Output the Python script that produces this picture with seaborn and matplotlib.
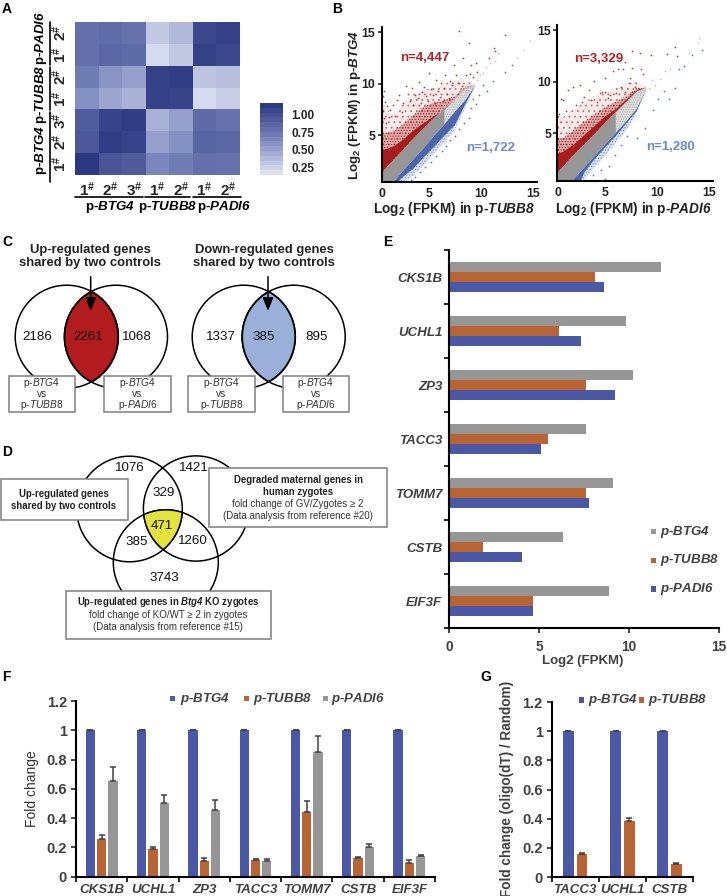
import numpy as np
import pandas as pd
import matplotlib
matplotlib.use('Agg')
import matplotlib.pyplot as plt
from matplotlib.colors import LinearSegmentedColormap
from matplotlib.patches import Circle, Polygon, Rectangle
import seaborn as sns

# panel A
heat_rows = ['2#', '1#', '2#', '1#', '3#', '2#', '1#']
heat_values_1 = [0.80, 0.82, 0.78, 0.30, 0.38, 1.05, 1.10]
heat_values_2 = [0.80, 0.85, 0.83, 0.20, 0.30, 1.10, 1.05]
heat_values_3 = [0.72, 0.58, 0.52, 1.10, 1.12, 0.32, 0.35]
heat_values_4 = [0.60, 0.48, 0.42, 1.10, 1.08, 0.20, 0.27]
heat_values_5 = [0.92, 1.08, 1.12, 0.42, 0.52, 0.83, 0.78]
heat_values_6 = [0.95, 1.12, 1.08, 0.52, 0.60, 0.87, 0.85]
heat_values_7 = [1.15, 0.97, 0.93, 0.65, 0.72, 0.80, 0.78]
heat_cols = ['1#', '2#', '3#', '1#', '2#', '1#', '2#']

# panel B, left: dense bands read as envelopes
l_x = [0.4, 1.4, 2.4, 3.4, 4.4, 5.4, 6.4, 7.4, 8.4, 9.4]
l_grey_lo = [-0.6, 0.4, 1.6, 2.7, 3.8, 5.0, 6.1, 7.3, 8.4, 9.9]
l_grey_hi = [1.45, 2.55, 3.6, 4.7, 5.7, 6.7, 7.6, 8.5, 9.5, 9.9]
l_red_a = [3.6, 3.9, 4.6, 5.5, 6.2, 6.9, 7.5, 8.5, 9.5, 9.9]
l_red_b = [5.2, 5.4, 6.1, 7.0, 7.8, 8.2, 8.4, 8.8, 9.7, 9.9]
l_red_c = [8.0, 7.0, 8.0, 9.0, 9.4, 9.6, 10.0, 10.3, 10.6, 9.9]
l_blue_a = [-2.0, 0.0, 1.0, 1.8, 2.9, 3.9, 5.0, 6.0, 8.0, 9.9]
l_blue_b = [-2.0, -1.0, 0.3, 1.1, 2.1, 3.2, 4.4, 5.5, 7.6, 9.9]

# panel B, left: sparse points
l_red_px = [7.9, 12.3, 8.8, 11.2, 11.3, 10.8, 9.5, 9.0, 7.4, 8.2, 5.0, 6.5, 7.6, 8.5, 2.7, 4.0, 5.6, 3.3, 4.5, 6.1,
            7.0, 7.9, 8.9, 9.6, 2.1, 2.9, 3.6, 4.3, 5.1, 5.8, 6.4, 7.2, 0.6, 0.5, 0.7, 0.9, 1.2, 1.5, 1.9, 2.4,
            3.1, 3.9, 4.7, 5.3, 6.0, 6.7, 0.5, 0.6, 0.8, 1.1, 1.7, 2.3, 3.4, 4.2, 4.9, 5.5, 6.3, 6.9, 8.1, 9.2]
l_red_py = [15.1, 14.7, 13.9, 13.5, 13.2, 12.5, 12.0, 11.8, 11.8, 12.5, 11.0, 10.8, 10.8, 10.8, 9.8, 10.2, 10.4, 9.6, 9.7, 10.1,
            10.3, 10.1, 10.9, 11.1, 8.9, 9.0, 8.9, 9.2, 9.5, 9.3, 9.6, 9.9, 9.3, 8.8, 8.2, 7.8, 7.4, 7.9, 8.4, 8.1,
            8.3, 8.6, 8.8, 8.9, 8.7, 9.0, 7.3, 6.7, 6.2, 6.8, 6.9, 7.2, 7.9, 8.1, 8.3, 8.1, 8.3, 8.6, 9.8, 10.6]
l_grey_px = [14.7, 14.1, 13.5, 11.6, 11.3, 10.9, 10.5, 10.2, 9.9, 9.6, 9.2, 9.0, 8.8, 8.5, 8.2]
l_grey_py = [14.1, 13.3, 12.5, 13.0, 12.2, 12.0, 11.6, 11.0, 10.8, 10.4, 10.5, 9.8, 10.2, 9.6, 9.9]
l_blue_px = [12.3, 13.0, 10.6, 10.2, 11.1, 9.8, 9.5, 9.2, 9.0, 8.8, 8.3, 7.9, 7.5, 7.0, 6.6, 6.2, 5.6, 5.1, 4.6, 4.1, 3.6, 3.2]
l_blue_py = [11.1, 11.8, 9.3, 9.9, 10.3, 8.9, 8.0, 8.5, 7.6, 6.7, 6.2, 5.6, 4.9, 4.5, 3.9, 3.5, 3.0, 2.4, 1.9, 1.4, 0.9, 0.6]

# panel B, right: dense bands
r_x = [0.45, 1, 2, 3, 4, 5, 6, 7, 8, 9]
r_grey_lo = [-1.0, -0.4, 0.67, 1.78, 2.9, 4.0, 5.1, 6.2, 7.4, 9.5]
r_grey_hi = [1.3, 1.9, 3.0, 4.0, 5.0, 6.1, 7.1, 8.1, 9.1, 9.5]
r_red_a = [3.1, 3.3, 4.0, 4.9, 5.8, 6.7, 7.4, 8.3, 9.2, 9.5]
r_red_b = [4.6, 4.6, 5.4, 6.2, 6.9, 7.6, 8.1, 8.6, 9.4, 9.5]
r_red_c = [6.8, 6.6, 7.4, 8.0, 8.6, 9.0, 9.4, 9.8, 10.0, 9.5]
r_blue_a = [-2.0, -2.0, -1.0, 1.3, 2.6, 3.7, 4.8, 6.0, 7.2, 9.5]
r_blue_b = [-2.0, -2.0, 0.0, 0.6, 1.8, 2.9, 4.1, 5.3, 6.9, 9.5]

# panel B, right: sparse points
r_red_px = [11.7, 7.6, 8.4, 9.4, 11.0, 11.9, 6.9, 5.8, 6.3, 6.7, 7.6, 8.5, 8.7, 4.0, 5.0, 1.9, 1.5, 2.6, 7.4, 7.3,
            7.9, 3.5, 4.5, 4.7, 5.0, 5.5, 7.6, 6.9, 0.8, 1.0, 3.0, 3.7, 4.2, 5.3, 6.1, 6.6, 2.2, 2.8, 1.3, 0.6]
r_red_py = [13.4, 13.0, 12.8, 12.6, 12.7, 12.5, 11.9, 11.0, 11.2, 11.2, 11.3, 11.2, 10.8, 10.1, 10.4, 9.5, 9.2, 9.7, 10.4, 9.9,
            9.5, 9.2, 8.9, 9.0, 9.0, 8.7, 9.0, 9.0, 8.3, 8.2, 8.5, 8.2, 8.0, 8.4, 8.9, 9.5, 7.8, 8.0, 7.2, 6.9]
r_grey_px = [14.1, 14.0, 13.1, 11.3, 10.8, 10.3, 9.8, 9.5, 9.2, 8.9]
r_grey_py = [14.2, 13.8, 12.8, 11.2, 11.0, 10.3, 9.7, 10.2, 9.4, 9.1]
r_blue_px = [14.3, 13.4, 12.6, 12.1, 11.7, 11.2, 10.7, 10.1, 9.6, 8.9, 8.1, 7.1, 6.6, 6.0, 5.0, 5.4, 4.6, 3.9]
r_blue_py = [13.1, 12.6, 11.5, 11.2, 9.4, 8.3, 9.1, 8.3, 7.3, 5.5, 4.6, 4.8, 3.9, 2.9, 0.6, 1.9, 1.5, 1.0]

# panel E
genes_e = ['CKS1B', 'UCHL1', 'ZP3', 'TACC3', 'TOMM7', 'CSTB', 'EIF3F']
groups_e = ['p-BTG4', 'p-TUBB8', 'p-PADI6']
e_btg4 = [11.8, 9.85, 10.2, 7.6, 9.1, 6.35, 8.9]
e_tubb8 = [8.1, 6.1, 7.6, 5.5, 7.6, 1.85, 4.65]
e_padi6 = [8.6, 7.3, 9.2, 5.1, 7.75, 4.05, 4.65]

# panel F
f_btg4 = [1, 1, 1, 1, 1, 1, 1]
f_tubb8 = [0.26, 0.19, 0.105, 0.115, 0.44, 0.125, 0.095]
f_padi6 = [0.655, 0.50, 0.455, 0.11, 0.85, 0.205, 0.14]
f_btg4_err = [0.002, 0.002, 0.002, 0.002, 0.002, 0.002, 0.002]
f_tubb8_err = [0.025, 0.01, 0.02, 0.003, 0.075, 0.01, 0.018]
f_padi6_err = [0.095, 0.055, 0.07, 0.01, 0.11, 0.02, 0.007]

# panel G
genes_g = ['TACC3', 'UCHL1', 'CSTB']
g_btg4 = [1, 1, 1]
g_tubb8 = [0.16, 0.385, 0.09]
g_btg4_err = [0.002, 0.002, 0.002]
g_tubb8_err = [0.005, 0.02, 0.005]

BLUE = '#4a58a5'
ORANGE = '#b96433'
GREY = '#969696'
DARK = '#404040'
RED = '#a81c1c'
SCAT_BLUE = '#3d5aa8'
W, H = 727, 896

sns.set_style('ticks')
plt.rcParams['font.family'] = ['Liberation Sans', 'DejaVu Sans']
plt.rcParams['mathtext.fontset'] = 'custom'
plt.rcParams['mathtext.rm'] = 'Liberation Sans'
plt.rcParams['mathtext.it'] = 'Liberation Sans:italic'
plt.rcParams['mathtext.bf'] = 'Liberation Sans:bold'
plt.rcParams['mathtext.bfit'] = 'Liberation Sans:italic:bold'
plt.rcParams['mathtext.default'] = 'bf'
plt.rcParams['hatch.linewidth'] = 0.5


def px_axes(x0, y0, x1, y1):
    return fig.add_axes([x0 / W, 1 - y1 / H, (x1 - x0) / W, (y1 - y0) / H])


def bold_it(name):
    # 'p-BTG4' -> bold p- with bold italic gene name
    pre, gene = name.split('-')
    return pre + '-$\\mathbfit{' + gene + '}$'


def it(name):
    pre, gene = name.split('-')
    return pre + '-$\\mathit{' + gene + '}$'


def style_axes(ax, lw=1.5):
    sns.despine(ax=ax)
    for s in ['left', 'bottom']:
        ax.spines[s].set_linewidth(lw)
        ax.spines[s].set_color('black')


def lens(circles):
    # outline of the area shared by all circles, they are convex so angle sort works
    pts = []
    for cx, cy, r in circles:
        t = np.linspace(0, 2 * np.pi, 720)
        xy = np.column_stack([cx + r * np.cos(t), cy + r * np.sin(t)])
        keep = np.ones(len(xy), dtype=bool)
        for ox, oy, orad in circles:
            keep &= np.hypot(xy[:, 0] - ox, xy[:, 1] - oy) <= orad + 0.01
        pts.append(xy[keep])
    pts = np.vstack(pts)
    c = pts.mean(axis=0)
    return pts[np.argsort(np.arctan2(pts[:, 1] - c[1], pts[:, 0] - c[0]))]


def stipple(ax, xs, a, b, colour, hatch, tint):
    # thin wash plus dots, reads like the point cloud at this size
    ax.fill_between(xs, a, b, color=colour, alpha=tint, lw=0)
    ax.fill_between(xs, a, b, facecolor='none', edgecolor=colour, hatch=hatch, linewidth=0)


def scatter_panel(ax, xs, lo, hi, red_a, red_b, red_c, blue_a, blue_b, points):
    stipple(ax, xs, hi, red_c, '#c0605c', '...', 0.12)
    stipple(ax, xs, hi, red_b, RED, '......', 0.3)
    ax.fill_between(xs, hi, red_a, color=RED, lw=0)
    stipple(ax, xs, blue_b, lo, '#6f88c4', '......', 0.25)
    ax.fill_between(xs, blue_a, lo, color=SCAT_BLUE, alpha=0.9, lw=0)
    stipple(ax, xs, lo, hi, '#aaaaaa', '.......', 0.4)
    ax.fill_between(xs[:7], lo[:7], hi[:7], color=GREY, lw=0)
    for px, py, col in points:
        sns.scatterplot(x=px, y=py, color=col, s=1.6, linewidth=0, alpha=0.85, ax=ax)
    style_axes(ax)
    ax.set_xlim(xs[0] - 0.02, 15.4)
    ax.set_ylim(0.4, 15.5)
    ax.set_xticks([xs[0] + 0.05, 5, 10, 15], ['0', '5', '10', '15'])
    ax.set_yticks([5, 10, 15])
    ax.tick_params(axis='x', length=0, pad=4)
    ax.tick_params(axis='y', length=3, width=1.2, pad=1.5)
    for t in ax.get_xticklabels() + ax.get_yticklabels():
        t.set_fontsize(8.8)
        t.set_fontweight('bold')
        t.set_color('#222222')


def bar_ticks(ax, n):
    # ticks sit between the groups, gene names stay centred on them
    ax.tick_params(which='major', length=0)
    ax.tick_params(which='minor', length=3.5, width=1.2, color='black')
    return np.arange(n + 1) - 0.5


def group_frame(genes, **series):
    rows = []
    for name, vals in series.items():
        for g, v in zip(genes, vals):
            rows.append({'gene': g, 'group': name, 'value': v})
    return pd.DataFrame(rows)


def add_errors(ax, errs):
    for cont, err in zip(ax.containers, errs):
        xs = [b.get_x() + b.get_width() / 2 for b in cont]
        ys = [b.get_height() for b in cont]
        ax.errorbar(xs, ys, yerr=[np.zeros(len(err)), err], fmt='none', ecolor=DARK,
                    elinewidth=1.1, capsize=2.4, capthick=1.1)


fig = plt.figure(figsize=(W / 100, H / 100), dpi=100)

# ---- A ----
heat = np.array([heat_values_1, heat_values_2, heat_values_3, heat_values_4,
                 heat_values_5, heat_values_6, heat_values_7])
cmap = LinearSegmentedColormap.from_list('bluish', ['#e1e7f5', '#7b86bc', '#29367f'])
ax_a = px_axes(75, 22, 240, 175)
cax = px_axes(260, 103, 283, 175)
sns.heatmap(heat, ax=ax_a, cmap=cmap, vmin=0.135, vmax=1.17, cbar_ax=cax,
            xticklabels=[f'${c[0]}^{{\\#}}$' for c in heat_cols],
            yticklabels=[f'${c[0]}^{{\\#}}$' for c in heat_rows],
            cbar_kws={'ticks': [0.25, 0.5, 0.75, 1.0], 'format': '%.2f',
                      'boundaries': np.linspace(0.135, 1.17, 16)})
ax_a.tick_params(length=0, pad=4)
for t in ax_a.get_xticklabels():
    t.set_fontsize(11)
    t.set_rotation(0)
for t in ax_a.get_yticklabels():
    t.set_fontsize(11)
    t.set_rotation(90)
    t.set_va('center')
cax.tick_params(length=0, pad=6)
for t in cax.get_yticklabels():
    t.set_fontsize(8.5)
    t.set_fontweight('bold')
cax.collections[0].set_edgecolor('face')

# ---- B ----
ax_b1 = px_axes(381.7, 27, 537, 182.5)
scatter_panel(ax_b1, l_x, l_grey_lo, l_grey_hi, l_red_a, l_red_b, l_red_c, l_blue_a, l_blue_b,
              [(l_red_px, l_red_py, RED), (l_grey_px, l_grey_py, '#bdbdbd'), (l_blue_px, l_blue_py, SCAT_BLUE)])
ax_b2 = px_axes(557.3, 25, 713, 181)
scatter_panel(ax_b2, r_x, r_grey_lo, r_grey_hi, r_red_a, r_red_b, r_red_c, r_blue_a, r_blue_b,
              [(r_red_px, r_red_py, RED), (r_grey_px, r_grey_py, '#bdbdbd'), (r_blue_px, r_blue_py, SCAT_BLUE)])

# ---- E ----
df_e = group_frame(genes_e, **{groups_e[0]: e_btg4, groups_e[1]: e_tubb8, groups_e[2]: e_padi6})
ax_e = px_axes(449.3, 250, 719, 628)
sns.barplot(data=df_e, x='value', y='gene', hue='group', orient='h', ax=ax_e, width=0.57, saturation=1,
            palette=[GREY, ORANGE, BLUE], errorbar=None, legend=False, linewidth=0)
style_axes(ax_e)
ax_e.set_xlim(0, 15)
ax_e.set_ylim(6.5, -0.5)
ax_e.set_xticks([0, 5, 10, 15])
ax_e.set_xlabel('')
ax_e.set_ylabel('')
ax_e.set_yticks(bar_ticks(ax_e, 7), minor=True)
ax_e.tick_params(axis='x', which='major', length=3.5, width=1.2, pad=5)
ax_e.tick_params(axis='y', pad=5)
for t in ax_e.get_yticklabels():
    t.set_fontsize(9.5)
    t.set_fontweight('bold')
    t.set_fontstyle('italic')
    t.set_color(DARK)
for t in ax_e.get_xticklabels():
    t.set_fontsize(9.8)
    t.set_fontweight('bold')
    t.set_color(DARK)

# ---- F ----
df_f = group_frame(genes_e, b=f_btg4, t=f_tubb8, p=f_padi6)
ax_f = px_axes(76, 701, 435, 876.7)
sns.barplot(data=df_f, x='gene', y='value', hue='group', ax=ax_f, width=0.66, gap=0.18, saturation=1,
            palette=[BLUE, ORANGE, GREY], errorbar=None, legend=False, linewidth=0)
add_errors(ax_f, [f_btg4_err, f_tubb8_err, f_padi6_err])
style_axes(ax_f)
ax_f.set_xlim(-0.5, 6.5)
ax_f.set_ylim(0, 1.2)
ax_f.set_yticks([0, 0.2, 0.4, 0.6, 0.8, 1, 1.2], ['0', '0.2', '0.4', '0.6', '0.8', '1', '1.2'])
ax_f.set_xlabel('')
ax_f.set_ylabel('Fold change', fontsize=10, color='#333333', labelpad=5)
ax_f.set_xticks(bar_ticks(ax_f, 7), minor=True)
ax_f.tick_params(axis='y', which='major', length=3.5, width=1.2, pad=3)
ax_f.tick_params(axis='x', which='major', pad=5)
for t in ax_f.get_xticklabels():
    t.set_fontsize(9.5)
    t.set_fontweight('bold')
    t.set_fontstyle('italic')
    t.set_color(DARK)
for t in ax_f.get_yticklabels():
    t.set_fontsize(10.5)
    t.set_fontweight('bold')
    t.set_color(DARK)

# ---- G ----
df_g = group_frame(genes_g, b=g_btg4, t=g_tubb8)
ax_g = px_axes(551.7, 702, 693, 877)
sns.barplot(data=df_g, x='gene', y='value', hue='group', ax=ax_g, width=0.58, gap=0.22, saturation=1,
            palette=[BLUE, ORANGE], errorbar=None, legend=False, linewidth=0)
add_errors(ax_g, [g_btg4_err, g_tubb8_err])
style_axes(ax_g)
ax_g.set_xlim(-0.5, 2.5)
ax_g.set_ylim(0, 1.2)
ax_g.set_yticks([0, 0.2, 0.4, 0.6, 0.8, 1, 1.2], ['0', '0.2', '0.4', '0.6', '0.8', '1', '1.2'])
ax_g.set_xlabel('')
ax_g.set_ylabel('')
ax_g.set_xticks(bar_ticks(ax_g, 3), minor=True)
ax_g.tick_params(axis='y', which='major', length=3.5, width=1.2, pad=3)
ax_g.tick_params(axis='x', which='major', pad=5)
for t in ax_g.get_xticklabels():
    t.set_fontsize(9.5)
    t.set_fontweight('bold')
    t.set_fontstyle('italic')
    t.set_color(DARK)
for t in ax_g.get_yticklabels():
    t.set_fontsize(10.5)
    t.set_fontweight('bold')
    t.set_color(DARK)

# ---- overlay in pixel coordinates: labels, venns, legends ----
ov = fig.add_axes([0, 0, 1, 1])
ov.set_xlim(0, W)
ov.set_ylim(H, 0)
ov.axis('off')
ov.patch.set_alpha(0)


def txt(x, y, s, size=9, weight='normal', color='black', **kw):
    ov.text(x, y, s, fontsize=size, fontweight=weight, color=color, ha=kw.pop('ha', 'center'),
            va=kw.pop('va', 'center'), **kw)


def box(x0, y0, x1, y1):
    ov.add_patch(Rectangle((x0, y0), x1 - x0, y1 - y0, fc='white', ec='#7f7f7f', lw=1.1, zorder=4))


def venn2(cx1, cx2, cy, r, fill):
    for cx in [cx1, cx2]:
        ov.add_patch(Circle((cx, cy), r, fc='none', ec='black', lw=1.1, zorder=2))
    ov.add_patch(Polygon(lens([(cx1, cy, r), (cx2, cy, r)]), fc=fill, ec='black', lw=1.3, zorder=3))


def square_legend(x, y, colour, label, text_dx=4.5):
    ov.add_patch(Rectangle((x, y - 2.6), 5.2, 5.2, fc=colour, lw=0))
    pre, gene = label.split('-')
    txt(x + 5.2 + text_dx, y, '$\\mathbfit{' + pre + '}$-$\\mathbfit{' + gene + '}$', size=9.5,
        weight='bold', style='italic', color=DARK, ha='left')


# panel letters
for letter, lx, ly in [('A', 2, 9), ('B', 332, 9), ('C', 2, 241.7), ('D', 2, 452),
                       ('E', 383, 241.7), ('F', 2, 676.7), ('G', 480, 676.7)]:
    txt(lx, ly, letter, size=10, weight='bold', ha='left')

# panel A brackets and group names
for x0, x1, name, cx in [(75, 142.7, 'p-BTG4', 110), (145, 190, 'p-TUBB8', 168), (193, 240.7, 'p-PADI6', 224)]:
    ov.plot([x0, x1], [197, 197], color='black', lw=1.2)
    txt(cx, 207, bold_it(name), size=9.6, weight='bold')
for y0, y1, name, cy in [(22, 65, 'p-PADI6', 38), (67, 110, 'p-TUBB8', 94), (112, 182, 'p-BTG4', 150)]:
    ov.plot([50, 50], [y0, y1], color='black', lw=1.2)
    txt(40.7, cy, bold_it(name), size=9.6, weight='bold', rotation=90)

# panel B texts
txt(425, 58, 'n=4,447', size=9.5, weight='bold', color='#b22222')
txt(490.7, 147.7, 'n=1,722', size=9.5, weight='bold', color='#6a8ac8')
txt(598.7, 59.3, 'n=3,329', size=9.5, weight='bold', color='#b22222')
txt(670.3, 147.3, 'n=1,280', size=9.5, weight='bold', color='#6a8ac8')
txt(454.5, 209, 'Log$_{2}$ (FPKM) in p-$\\mathbfit{TUBB8}$', size=9.8, weight='bold', color='#222222')
txt(634, 209, 'Log$_{2}$ (FPKM) in p-$\\mathbfit{PADI6}$', size=9.8, weight='bold', color='#222222')
txt(355, 105, 'Log$_{2}$ (FPKM) in p-$\\mathbfit{BTG4}$', size=9.6, weight='bold', color='#222222', rotation=90)

# panel C
venn2(66.7, 116, 336.7, 51.5, '#b21c1e')
venn2(243.7, 293.7, 336.7, 51.5, '#9ab0d8')
txt(90, 256.5, 'Up-regulated genes\nshared by two controls', size=9.4, weight='bold', color='#222222', linespacing=1.2)
txt(264, 256.5, 'Down-regulated genes\nshared by two controls', size=9.4, weight='bold', color='#222222', linespacing=1.2)
for ax_x in [90.7, 268]:
    ov.annotate('', xy=(ax_x, 311), xytext=(ax_x, 276.7), zorder=5,
                arrowprops=dict(arrowstyle='-|>,head_width=0.32,head_length=0.8', color='black', lw=1.1,
                                shrinkA=0, shrinkB=0))
for num, nx in [('2186', 37.3), ('2261', 88.7), ('1068', 137), ('1337', 220.7), ('385', 264), ('895', 316.7)]:
    txt(nx, 337.5, num, size=9.6, zorder=5, color='#111111')
for x0, x1, name in [(9, 75, 'p-TUBB8'), (104, 171, 'p-PADI6'), (188, 255, 'p-TUBB8'), (283, 349, 'p-PADI6')]:
    box(x0, 376, x1, 412)
    cx = (x0 + x1) / 2
    txt(cx, 382.5, it('p-BTG4'), size=7.3, color='#333333', zorder=5)
    txt(cx, 394, 'vs', size=7.3, color='#333333', zorder=5)
    txt(cx, 405.5, it(name), size=7.3, color='#333333', zorder=5)

# panel D
d_circles = [(129.5, 509, 52.8), (196, 508.5, 52.6), (165.8, 562.3, 52.5)]
for c in d_circles:
    ov.add_patch(Circle(c[:2], c[2], fc='none', ec='black', lw=1.1, zorder=2))
ov.add_patch(Polygon(lens(d_circles), fc='#e4e23c', ec='black', lw=1.1, zorder=3))
for num, nx, ny in [('1076', 130, 468.3), ('1421', 194, 468.3), ('329', 164, 492.7), ('471', 162, 526),
                    ('385', 136.7, 541.7), ('1260', 192.7, 541), ('3743', 164, 577.7)]:
    txt(nx, ny, num, size=9.6, zorder=5, color='#111111')
box(0.7, 479, 128, 520)
txt(64, 494, 'Up-regulated genes', size=6.9, weight='bold', color='#222222', zorder=5)
txt(64, 505.7, 'shared by two controls', size=6.9, weight='bold', color='#222222', zorder=5)
box(209, 468.3, 386.7, 527.3)
txt(298, 480.3, 'Degraded maternal genes in', size=6.9, weight='bold', color='#222222', zorder=5)
txt(298, 492, 'human zygotes', size=6.9, weight='bold', color='#222222', zorder=5)
txt(298, 504, 'fold change of GV/Zygotes ≥ 2', size=7, color='#333333', zorder=5)
txt(298, 515.7, '(Data analysis from reference #20)', size=7, color='#333333', zorder=5)
box(65.7, 590.7, 270.7, 638.7)
txt(168, 602, 'Up-regulated genes in $\\mathbfit{Btg4}$ KO zygotes', size=6.9, weight='bold', color='#222222', zorder=5)
txt(168, 615, 'fold change of KO/WT ≥ 2 in zygotes', size=7, color='#333333', zorder=5)
txt(168, 627, '(Data analysis from reference #15)', size=7, color='#333333', zorder=5)

# panel E extras
txt(583, 661, 'Log2 (FPKM)', size=9.5, weight='bold', color=DARK)
square_legend(651, 531.7, GREY, 'p-BTG4', 3.5)
square_legend(651, 560.3, ORANGE, 'p-TUBB8', 3.5)
square_legend(651, 589, BLUE, 'p-PADI6', 3.5)

# panel F legend
square_legend(170, 698.7, BLUE, 'p-BTG4')
square_legend(244, 698.7, ORANGE, 'p-TUBB8', 3.5)
square_legend(323, 698.7, GREY, 'p-PADI6', 3)

# panel G legend and label
square_legend(579, 700, BLUE, 'p-BTG4', 3.5)
square_legend(639, 700, ORANGE, 'p-TUBB8', 3.5)
txt(506.7, 789, 'Fold change (oligo(dT) / Random)', size=9.8, color=DARK, weight='bold', rotation=90)

fig.savefig('out.png', dpi=100)
